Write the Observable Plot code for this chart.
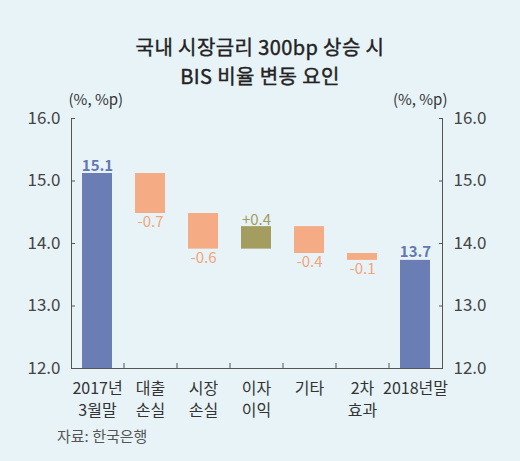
<!DOCTYPE html>
<html>
<head>
<meta charset="utf-8">
<script src="https://cdn.jsdelivr.net/npm/d3@7"></script>
<script src="https://cdn.jsdelivr.net/npm/@observablehq/plot@0.6"></script>
<style>
  html, body { margin: 0; padding: 0; background: #e8f3f8; }
  body { position: relative; width: 520px; height: 461px; overflow: hidden; font-family: "Noto Sans CJK KR", "Noto Sans", sans-serif; }
  #title { position: absolute; top: 32px; left: 0; width: 520px; text-align: center; color: #222; }
  #title div { font-size: 20px; height: 29px; line-height: 29px; letter-spacing: 0.4px; font-weight: 400; -webkit-text-stroke: 0.4px #222; }
  #chart { padding-top: 84px; }
  #chart svg { display: block; }
  #source { padding-left: 57px; font-size: 15px; line-height: 18px; color: #555; }
</style>
</head>
<body>
<div id="title"><div>국내 시장금리 300bp 상승 시</div><div>BIS 비율 변동 요인</div></div>
<div id="chart"></div>
<div id="source">자료: 한국은행</div>
<script>
// categories (x axis), two lines each
const categories = ["2017년\n3월말", "대출\n손실", "시장\n손실", "이자\n이익", "기타", "2차\n효과", "2018년말"];
// start level, step changes, end level (%, %p) as drawn
const startValue = 15.12;
const deltas = [-0.64, -0.57, 0.36, -0.43, -0.11];
const endValue = 13.73;
// printed value labels
const valueLabels = ["15.1", "-0.7", "-0.6", "+0.4", "-0.4", "-0.1", "13.7"];
const yTicks = [12, 13, 14, 15, 16];

const colors = {total: "#6a7db4", neg: "#f5ab84", pos: "#a39d60"};
const textColors = {total: "#6377b0", neg: "#f3a47b", pos: "#a19b5e"};

// build waterfall rows
let rows = [];
rows.push({cat: categories[0], y1: 12, y2: startValue, kind: "total", label: valueLabels[0]});
let level = startValue;
deltas.forEach((d, i) => {
  rows.push({cat: categories[i + 1], y1: level, y2: level + d, kind: d < 0 ? "neg" : "pos", label: valueLabels[i + 1]});
  level += d;
});
rows.push({cat: categories[6], y1: 12, y2: endValue, kind: "total", label: valueLabels[6]});

const totals = rows.filter(d => d.kind === "total");
const gains = rows.filter(d => d.kind === "pos");
const losses = rows.filter(d => d.kind === "neg");

const font = "'Noto Sans CJK KR', 'Noto Sans', sans-serif";

let chart = Plot.plot({
  width: 520,
  height: 343,
  marginTop: 34,
  marginBottom: 59,
  marginLeft: 71,
  marginRight: 78,
  style: {background: "transparent", fontFamily: font, fontSize: "17px", color: "#444"},
  x: {domain: categories, paddingInner: 0.43, paddingOuter: 0.215, axis: null},
  y: {domain: [12, 16], axis: null},
  marks: [
    Plot.frame({anchor: "left", stroke: "#555"}),
    Plot.frame({anchor: "right", stroke: "#555"}),
    Plot.ruleY([12], {stroke: "#555"}),
    // y ticks point inward
    Plot.axisY({anchor: "left", ticks: yTicks, tickFormat: d3.format(".1f"), tickSize: 4, dx: 4, tickPadding: 11, label: null, stroke: "#555", fill: "#444", fontSize: 17}),
    Plot.axisY({anchor: "right", ticks: yTicks, tickFormat: d3.format(".1f"), tickSize: 4, dx: -4, tickPadding: 11, label: null, stroke: "#555", fill: "#444", fontSize: 17}),
    Plot.axisX({anchor: "bottom", tickSize: 0, tickPadding: 10, label: null, lineHeight: 1.375, fill: "#333", fontSize: 16}),
    // separators between categories, pointing up
    Plot.axisX({anchor: "bottom", ticks: categories.slice(0, -1), tickSize: 5, dx: 26.5, dy: -5, tickFormat: () => "", label: null, stroke: "#555"}),
    Plot.barY(rows, {x: "cat", y1: "y1", y2: "y2", fill: d => colors[d.kind]}),
    Plot.text(totals, {x: "cat", y: "y2", text: "label", lineAnchor: "bottom", dy: -3,
      fill: textColors.total, fontSize: 15, fontWeight: "bold"}),
    Plot.text(gains, {x: "cat", y: "y2", text: "label", lineAnchor: "bottom", dy: -2,
      fill: textColors.pos, fontSize: 15}),
    Plot.text(losses, {x: "cat", y: "y2", text: "label", lineAnchor: "top", dy: 3,
      fill: textColors.neg, fontSize: 15}),
    Plot.text(["(%, %p)"], {frameAnchor: "top-left", textAnchor: "start", dx: -3, dy: -24, fontSize: 15, fill: "#333"}),
    Plot.text(["(%, %p)"], {frameAnchor: "top-right", textAnchor: "end", dx: 5, dy: -24, fontSize: 15, fill: "#333"})
  ]
});

d3.select("#chart").append(() => chart);
</script>
</body>
</html>
